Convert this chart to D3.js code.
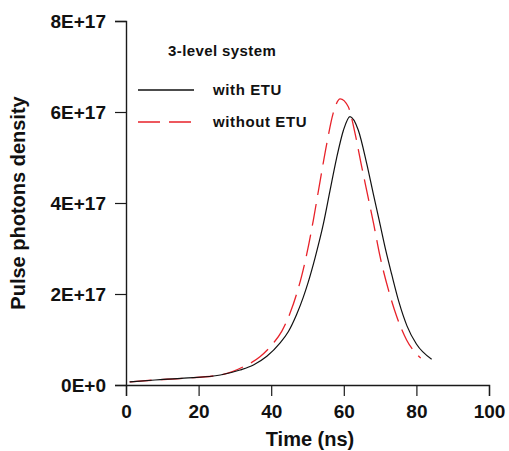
<!DOCTYPE html>
<html>
<head>
<meta charset="utf-8">
<script src="https://cdn.jsdelivr.net/npm/d3@7"></script>
<style>
  html, body { margin: 0; padding: 0; background: #fff; }
  svg { display: block; font-family: "Liberation Sans", Arial, sans-serif; }
</style>
</head>
<body>
<svg id="chart" width="509" height="451"></svg>
<script>
// Pulse photon density vs time (3-level system), values in units of 1E+17
const timeWith = [1, 8, 16, 26, 31.4, 35.1, 38.8, 42.4, 44.7, 47, 48.8, 50.2, 52.1, 54.4, 56.2, 58, 59.9, 61.7, 64, 66.3, 68.1, 69.8, 71.5, 73.2, 75.2, 77.4, 80, 84.2];
const densWith = [0.07, 0.11, 0.15, 0.22, 0.33, 0.44, 0.63, 0.92, 1.17, 1.55, 1.92, 2.26, 2.8, 3.55, 4.27, 4.98, 5.6, 5.9, 5.6, 4.87, 4.21, 3.6, 2.98, 2.43, 1.82, 1.3, 0.9, 0.565];
const timeWithout = [1, 8, 16, 25.9, 32.3, 36.9, 40.6, 42.9, 45.2, 47, 48.4, 49.8, 51.6, 53.4, 55.3, 57.1, 59, 61.2, 63.1, 64.8, 66.5, 68.2, 70, 72.3, 74.6, 77.3, 81.2];
const densWithout = [0.07, 0.11, 0.15, 0.22, 0.4, 0.62, 0.92, 1.18, 1.58, 2.0, 2.4, 2.88, 3.62, 4.45, 5.3, 5.98, 6.29, 6.12, 5.53, 4.85, 4.2, 3.55, 2.82, 2.09, 1.5, 0.99, 0.59];
const xTicks = [0, 20, 40, 60, 80, 100];
const yTicks = [0, 2, 4, 6, 8];
const yTickLabels = ["0E+0", "2E+17", "4E+17", "6E+17", "8E+17"];
const seriesNames = ["with ETU", "without ETU"];
const legendTitle = "3-level system";

const svg = d3.select("#chart");
const x = d3.scaleLinear().domain([0, 100]).range([126, 489]);
const y = d3.scaleLinear().domain([0, 8]).range([385, 21]);

const axisColor = "#1a1a1a";

// x axis: major + minor ticks
const gx = svg.append("g").attr("transform", `translate(0,${y(0)})`);
gx.call(d3.axisBottom(x).tickValues(d3.range(10, 100, 20)).tickSize(6).tickFormat(""));
gx.call(d3.axisBottom(x).tickValues(xTicks).tickSize(11).tickPadding(9).tickFormat(d3.format("d")));

// y axis: major + minor ticks
const gy = svg.append("g").attr("transform", `translate(${x(0)},0)`);
gy.call(d3.axisLeft(y).tickValues([1, 3, 5, 7]).tickSize(5).tickFormat(""));
gy.call(d3.axisLeft(y).tickValues(yTicks).tickSize(11).tickPadding(9).tickFormat((d, i) => yTickLabels[i]));

svg.selectAll(".domain").attr("stroke", axisColor).attr("stroke-width", 1.4);
svg.selectAll(".tick line").attr("stroke", axisColor).attr("stroke-width", 1.2);
svg.selectAll(".tick text")
  .attr("fill", "#111")
  .style("font-size", "19px")
  .style("font-weight", "bold")
  .style("font-family", "'Liberation Sans', Arial, sans-serif");

// axis titles
svg.append("text")
  .attr("x", 310).attr("y", 446)
  .attr("text-anchor", "middle")
  .style("font-size", "20px").style("font-weight", "bold").attr("fill", "#111")
  .text("Time (ns)");
svg.append("text")
  .attr("transform", "translate(25,203) rotate(-90)")
  .attr("text-anchor", "middle")
  .style("font-size", "20px").style("font-weight", "bold").attr("fill", "#111")
  .text("Pulse photons density");

// curves
const line = d3.line().x(d => x(d[0])).y(d => y(d[1])).curve(d3.curveMonotoneX);
svg.append("path")
  .datum(d3.zip(timeWithout, densWithout))
  .attr("d", line).attr("fill", "none")
  .attr("stroke", "#e8222a").attr("stroke-width", 1.3)
  .attr("stroke-dasharray", "22,9");
svg.append("path")
  .datum(d3.zip(timeWith, densWith))
  .attr("d", line).attr("fill", "none")
  .attr("stroke", "#111").attr("stroke-width", 1.2);

// legend
const lg = svg.append("g");
lg.append("text").attr("x", 168).attr("y", 56)
  .style("font-size", "15px").style("font-weight", "bold").attr("fill", "#111")
  .style("letter-spacing", "0.4px")
  .text(legendTitle);
const legendRows = [
  { name: seriesNames[0], y: 90, color: "#111", dash: null },
  { name: seriesNames[1], y: 122, color: "#e8222a", dash: "22,9" }
];
legendRows.forEach(r => {
  lg.append("line").attr("x1", 138).attr("x2", 194).attr("y1", r.y).attr("y2", r.y)
    .attr("stroke", r.color).attr("stroke-width", 1.3)
    .attr("stroke-dasharray", r.dash);
  lg.append("text").attr("x", 213).attr("y", r.y + 5)
    .style("font-size", "15px").style("font-weight", "bold").attr("fill", "#111")
    .style("letter-spacing", "0.6px")
    .text(r.name);
});
</script>
</body>
</html>
